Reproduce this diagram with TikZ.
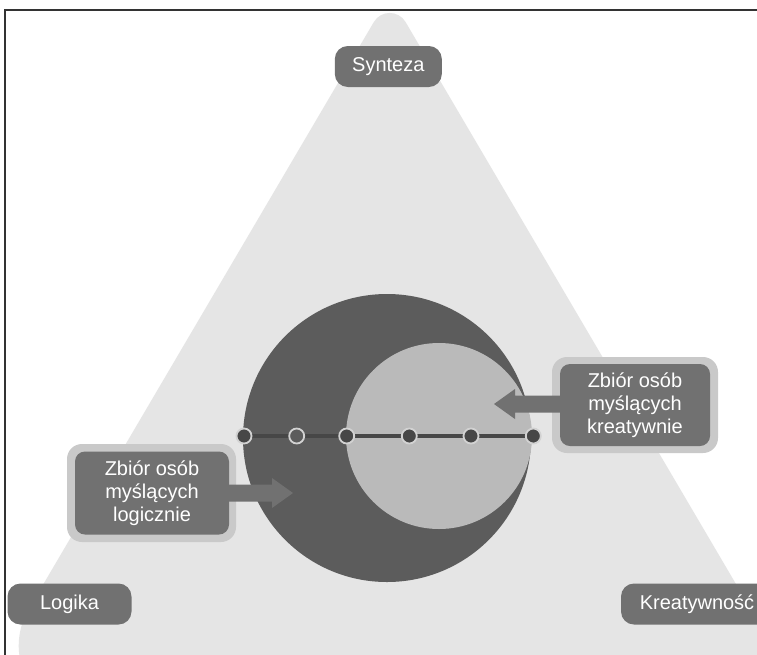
\documentclass[tikz,border=0pt]{standalone}
\usepackage{fontspec}
\setmainfont{Liberation Sans}
\usetikzlibrary{calc}
\definecolor{trifill}{HTML}{E5E5E5}
\definecolor{darkc}{HTML}{5C5C5C}
\definecolor{lightc}{HTML}{BABABA}
\definecolor{boxfill}{HTML}{717171}
\definecolor{boxrim}{HTML}{C9C9C9}
\definecolor{linec}{HTML}{474747}
\definecolor{dotrim}{HTML}{D2D2D2}
\definecolor{framec}{HTML}{333333}
\begin{document}
\begin{tikzpicture}[x=1pt,y=-1pt,
  lbl/.style={fill=boxfill, rounded corners=13pt, text=white,
    font=\fontsize{20}{23}\selectfont, minimum height=41pt, inner sep=0pt},
  rim/.style={fill=boxrim, rounded corners=15pt, inner sep=0pt},
  callout/.style={fill=boxfill, rounded corners=10pt, text=white,
    font=\fontsize{20}{23}\selectfont, align=center, inner sep=0pt},
  dotfull/.style={circle, fill=linec, draw=dotrim, line width=1.8pt,
    minimum size=15pt, inner sep=0pt},
  dothollow/.style={circle, fill=darkc, draw=dotrim, line width=1.8pt,
    minimum size=15pt, inner sep=0pt},
  arrowfill/.style={fill=boxfill}
]
\useasboundingbox (0,0) rectangle (757,654);
\clip (0,0) rectangle (757,654);
\fill[white] (0,0) rectangle (757,654);
\draw[framec, line width=1.2pt] (5,10) rectangle (800,700);

% triangle with rounded corners
\coordinate (A) at (389.7,-5);
\coordinate (A1) at (373.8,22.1);
\coordinate (A2) at (405.6,22.1);
\coordinate (B) at (814.2,717);
\coordinate (B1) at (750.3,608.4);
\coordinate (B2) at (688.2,717);
\coordinate (C) at (-34.8,717);
\coordinate (C1) at (91.2,717);
\coordinate (C2) at (29.1,608.4);
\fill[trifill] (A1) .. controls ($(A1)!0.45!(A)$) and ($(A2)!0.45!(A)$) .. (A2)
  -- (B1) .. controls ($(B1)!0.45!(B)$) and ($(B2)!0.45!(B)$) .. (B2)
  -- (C1) .. controls ($(C1)!0.45!(C)$) and ($(C2)!0.45!(C)$) .. (C2) -- cycle;

% circles
\fill[darkc] (387,438) circle[radius=144];
\fill[lightc] (439,436) circle[radius=93];

% scale line with dots
\coordinate (p1) at (244,436);
\coordinate (p2) at (296.7,436);
\coordinate (p3) at (346.7,436);
\coordinate (p4) at (409.3,436);
\coordinate (p5) at (471,436);
\coordinate (p6) at (533.3,436);
\draw[linec, line width=4.5pt] (p1) -- (p6);
\node[dotfull] (d1) at (p1) {};
\node[dothollow] (d2) at (p2) {};
\node[dotfull] (d3) at (p3) {};
\node[dotfull] (d4) at (p4) {};
\node[dotfull] (d5) at (p5) {};
\node[dotfull] (d6) at (p6) {};

% left callout
\node[rim, minimum width=169pt, minimum height=98pt] (lrim) at (151.5,493) {};
\node[callout, minimum width=154pt, minimum height=83pt] (lbox) at (152,493)
  {Zbiór osób\\myślących\\logicznie};
\coordinate (ltip) at (293,493);
\fill[arrowfill] ($(lbox.east)+(-3,-8.5)$) -- ($(ltip)+(-21,-8.5)$) -- ($(ltip)+(-21,-15)$)
  -- (ltip) -- ($(ltip)+(-21,15)$) -- ($(ltip)+(-21,8.5)$) -- ($(lbox.east)+(-3,8.5)$) -- cycle;

% right callout
\node[rim, minimum width=166pt, minimum height=96pt] (rrim) at (635,405) {};
\node[callout, minimum width=150pt, minimum height=82pt] (rbox) at (635,405)
  {Zbiór osób\\myślących\\kreatywnie};
\coordinate (rtip) at (494,404);
\fill[arrowfill] ($(rbox.west)+(3,-9.5)$) -- ($(rtip)+(21,-8.5)$) -- ($(rtip)+(21,-15)$)
  -- (rtip) -- ($(rtip)+(21,15)$) -- ($(rtip)+(21,8.5)$) -- ($(rbox.west)+(3,7.5)$) -- cycle;

% corner labels
\node[lbl, minimum width=107pt] (syn) at (388.3,66.5) {Synteza};
\node[lbl, minimum width=124pt] (log) at (69.5,604) {Logika};
\node[lbl, minimum width=152pt] (kre) at (697,604) {Kreatywność};
\end{tikzpicture}
\end{document}
